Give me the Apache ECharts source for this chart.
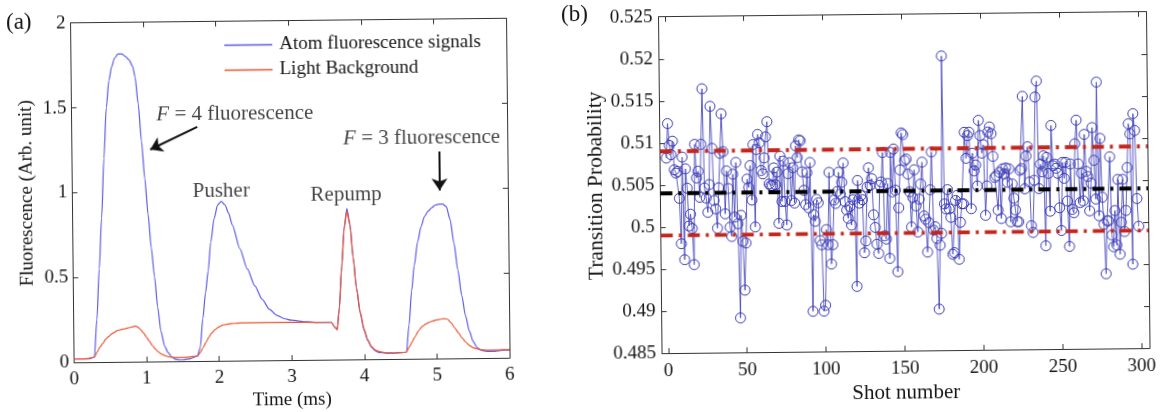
<!DOCTYPE html>
<html><head><meta charset="utf-8">
<script src="https://cdn.jsdelivr.net/npm/echarts@6/dist/echarts.min.js"></script>
<style>
html,body{margin:0;padding:0;background:#fff;overflow:hidden}
#c{width:1163px;height:412px;transform:rotate(-0.6deg);transform-origin:50% 50%;}
</style>
</head><body><div id="c"></div>
<script>
// ---------- Panel (a) ----------
const aTime = [0,0.1,0.2,0.28,0.32,0.36,0.40,0.44,0.48,0.52,0.56,0.60,0.65,0.70,0.75,0.80,0.85,0.88,0.92,0.96,1.00,1.04,1.08,1.12,1.16,1.20,1.25,1.30,1.35,1.40,1.45,1.50,1.60,1.70,1.74,1.78,1.82,1.86,1.90,1.95,2.00,2.05,2.10,2.15,2.20,2.30,2.40,2.50,2.60,2.70,2.80,2.90,3.00,3.20,3.40,3.55,3.60,3.63,3.66,3.70,3.74,3.78,3.82,3.86,3.90,3.95,4.00,4.05,4.10,4.15,4.20,4.30,4.40,4.50,4.58,4.62,4.66,4.70,4.75,4.80,4.85,4.90,4.95,5.00,5.05,5.10,5.15,5.20,5.25,5.30,5.35,5.40,5.45,5.50,5.55,5.60,5.65,5.70,5.80,5.90,6.00];
const aAtom = [0.02,0.02,0.02,0.03,0.25,0.55,0.85,1.20,1.50,1.66,1.74,1.79,1.815,1.815,1.80,1.78,1.74,1.68,1.52,1.30,1.08,0.87,0.67,0.50,0.32,0.18,0.09,0.05,0.025,0.012,0.008,0.008,0.015,0.03,0.08,0.25,0.40,0.53,0.70,0.84,0.92,0.94,0.92,0.87,0.80,0.66,0.54,0.44,0.36,0.30,0.265,0.245,0.235,0.225,0.22,0.22,0.19,0.18,0.30,0.55,0.78,0.89,0.80,0.60,0.42,0.27,0.17,0.11,0.07,0.05,0.04,0.035,0.035,0.038,0.04,0.20,0.40,0.55,0.69,0.78,0.84,0.87,0.89,0.905,0.91,0.91,0.895,0.82,0.68,0.52,0.37,0.25,0.16,0.10,0.065,0.048,0.042,0.04,0.04,0.045,0.045];
const aBackground = [0.02,0.02,0.022,0.03,0.06,0.09,0.11,0.135,0.15,0.165,0.175,0.185,0.19,0.195,0.20,0.205,0.21,0.205,0.19,0.17,0.145,0.12,0.095,0.075,0.058,0.045,0.035,0.028,0.025,0.022,0.022,0.022,0.025,0.03,0.05,0.08,0.11,0.14,0.165,0.185,0.20,0.21,0.215,0.218,0.22,0.222,0.222,0.222,0.222,0.222,0.222,0.222,0.222,0.222,0.22,0.22,0.19,0.175,0.29,0.54,0.77,0.875,0.79,0.60,0.42,0.28,0.18,0.115,0.075,0.055,0.045,0.037,0.036,0.038,0.04,0.07,0.10,0.13,0.165,0.19,0.205,0.215,0.222,0.228,0.232,0.235,0.232,0.21,0.18,0.15,0.12,0.095,0.075,0.062,0.055,0.05,0.048,0.047,0.047,0.048,0.048];
const aSeriesNames = ['Atom fluorescence signals','Light Background'];
const annText = ['{i|F} = 4 fluorescence','Pusher','Repump','{i|F} = 3 fluorescence'];
const annT = [2.25, 2.05, 3.77, 4.82];
const annV = [1.456, 1.0, 0.97, 1.30];
// arrows: [t0, v0, t1, v1]
const arrows = [[1.73,1.38,1.08,1.25],[5.06,1.22,5.06,0.99]];

// ---------- Panel (b) ----------
const bProb = [
0.5082,0.5123,0.5097,0.5086,0.5102,0.5068,0.5064,0.5066,0.5034,0.4980,
0.5083,0.4961,0.5069,0.5046,0.5001,0.5015,0.4998,0.4955,0.5098,0.5058,
0.5066,0.5035,0.5098,0.5164,0.5046,0.5034,0.5017,0.5050,0.5143,0.5093,
0.5031,0.5021,0.4998,0.5046,0.5087,0.5134,0.5089,0.5015,0.5066,0.5045,
0.4999,0.4988,0.5062,0.5011,0.5076,0.5003,0.4891,0.5013,0.4982,0.4924,
0.4980,0.5056,0.5046,0.5072,0.5031,0.5097,0.4999,0.5091,0.5109,0.5099,
0.5066,0.5062,0.5081,0.5106,0.5124,0.5050,0.5048,0.5048,0.5069,0.5049,
0.5064,0.5003,0.5083,0.5029,0.5077,0.5029,0.5001,0.5062,0.5075,0.5030,
0.5069,0.5027,0.5095,0.5081,0.5102,0.5101,0.5064,0.5042,0.5025,0.5063,
0.5021,0.5075,0.4898,0.5013,0.5005,0.5031,0.5027,0.4982,
0.4977,0.4898,0.4905,0.4995,0.4977,0.5063,0.4954,0.4977,0.5030,0.5026,
0.5040,0.5063,0.5037,0.5051,0.5074,0.5028,0.5018,0.5008,0.5022,0.5000,
0.5030,0.5034,0.4927,0.5053,0.5026,0.5035,0.5030,0.4967,0.4981,0.5045,
0.5068,0.5047,0.5055,0.5012,0.4997,0.4977,0.4966,0.5047,0.5051,0.5086,
0.4987,0.4983,0.5049,0.4960,0.5086,0.5039,0.5090,0.5041,0.4944,0.5020,
0.5065,0.5109,0.5107,0.5076,0.5078,0.5060,0.5039,0.4997,0.5032,0.5065,
0.5022,0.4991,0.5030,0.5048,0.5074,0.5010,0.5006,0.4967,0.5002,0.5041,
0.5086,0.4993,0.4997,0.4983,0.4899,0.4975,0.4989,0.5200,0.5024,0.5018,
0.5041,0.5018,0.5008,0.4964,0.4966,0.5028,0.5034,0.4958,0.5002,0.5024,
0.5024,0.5109,0.5078,0.5105,0.5109,0.5018,0.5084,0.5063,0.5070,0.5045,
0.5123,0.5105,0.5084,0.5094,0.5010,0.5045,0.5109,0.5115,0.5107,0.5080,
0.5055,0.5057,0.5016,0.5061,0.5006,0.5065,0.5059,0.5066,0.5049,0.5065,
0.5002,0.5047,0.5030,0.5016,0.5002,0.5002,0.5063,0.5065,0.5151,0.5041,
0.5080,0.5091,0.5049,0.4997,0.4989,0.5051,0.5150,0.5169,0.5041,0.5070,
0.5061,0.5080,0.4973,0.5078,0.5059,0.5014,0.5116,0.5068,0.5070,0.5065,
0.5059,0.5018,0.4991,0.5072,0.5053,0.5072,0.5026,0.4972,0.5070,0.5016,
0.5012,0.5094,0.5122,0.5070,0.5024,0.5059,0.5026,0.5105,0.5061,0.5055,
0.5014,0.5047,0.5113,0.5074,0.5028,0.5167,0.5008,0.5100,0.5030,0.4998,
0.4939,0.5002,0.5002,0.5078,0.4985,0.4971,0.5014,0.4973,0.5051,0.4962,
0.5000,0.5051,0.4989,0.5014,0.5065,0.5117,0.5105,0.4950,0.5129,0.5109,
0.5028,0.4995];
const bMean = 0.5040;
const bUpper = 0.5090;
const bLower = 0.4990;
const bXMin = -4, bXMax = 305;
const bXTicks = [0,50,100,150,200,250,300];

// ---------- styles ----------
const FONT = 'Liberation Serif';
const TXT = '#151515';
const AX = '#333';
function axisCommon(show){
  return {
    axisLine:{show:true,onZero:false,lineStyle:{color:AX,width:1}},
    axisTick:{show:true,inside:true,length:5,lineStyle:{color:AX,width:1}},
    splitLine:{show:false},
    axisLabel:{show:show,color:TXT,fontFamily:FONT,fontSize:19},
    nameTextStyle:{color:TXT,fontFamily:FONT,fontSize:19}
  };
}
const gridA = {left:72.5, top:17.7, width:435.5, height:343.4};
const gridB = {left:660.5, top:17.7, width:487.5, height:343.4};

const xA = Object.assign(axisCommon(true),{type:'value',gridIndex:0,min:0,max:6,interval:1,position:'bottom',
  name:'Time (ms)',nameLocation:'middle',nameGap:28});
xA.axisLabel.margin = 7;
const xA2 = Object.assign(axisCommon(false),{type:'value',gridIndex:0,min:0,max:6,interval:1,position:'top'});
const yA = Object.assign(axisCommon(true),{type:'value',gridIndex:0,min:0,max:2,interval:0.5,position:'left',
  name:'Fluorescence (Arb. unit)',nameLocation:'middle',nameGap:36});
yA.axisLabel.margin = 5;
const yA2 = Object.assign(axisCommon(false),{type:'value',gridIndex:0,min:0,max:2,interval:0.5,position:'right'});

const xB = Object.assign(axisCommon(true),{type:'value',gridIndex:1,min:bXMin,max:bXMax,position:'bottom',
  name:'Shot number',nameLocation:'middle',nameGap:28});
xB.axisLabel.margin = 8; xB.axisLabel.customValues = bXTicks; xB.axisTick.customValues = bXTicks;
xB.nameTextStyle.fontSize = 21;
const xB2 = Object.assign(axisCommon(false),{type:'value',gridIndex:1,min:bXMin,max:bXMax,position:'top'});
xB2.axisTick.customValues = bXTicks;
const yB = Object.assign(axisCommon(true),{type:'value',gridIndex:1,min:0.485,max:0.525,interval:0.005,position:'left',
  name:'Transition Probability',nameLocation:'middle',nameGap:42});
yB.axisLabel.margin = 6; yB.axisLabel.formatter = v => String(+v.toFixed(3));
yB.nameTextStyle.fontSize = 21.5;
const yB2 = Object.assign(axisCommon(false),{type:'value',gridIndex:1,min:0.485,max:0.525,interval:0.005,position:'right'});

const chart = echarts.init(document.getElementById('c'), null, {renderer:'canvas'});
chart.setOption({
  animation:false,
  backgroundColor:'#fff',
  textStyle:{fontFamily:FONT},
  grid:[gridA, gridB],
  xAxis:[xA, xA2, xB, xB2],
  yAxis:[yA, yA2, yB, yB2],
  legend:{
    data:aSeriesNames.map(n=>({name:n,icon:'rect'})), orient:'vertical', left:221, top:27, itemWidth:48, itemHeight:1.4, itemGap:6,
    textStyle:{color:TXT,fontFamily:FONT,fontSize:19,padding:[0,0,0,2]}, backgroundColor:'transparent'
  },
  graphic:[
    {type:'text',left:8,top:5,style:{text:'(a)',font:'23px "Liberation Serif"',fill:TXT}},
    {type:'text',left:563,top:3,style:{text:'(b)',font:'23px "Liberation Serif"',fill:TXT}}
  ],
  series:[
    {name:aSeriesNames[0],type:'line',xAxisIndex:0,yAxisIndex:0,symbol:'none',smooth:0.25,smoothMonotone:'x',
     data:aTime.map((t,i)=>[t,aAtom[i]]),lineStyle:{color:'#5b5be6',width:1.2},itemStyle:{color:'#5b5be6'},z:2},
    {name:aSeriesNames[1],type:'line',xAxisIndex:0,yAxisIndex:0,symbol:'none',smooth:0.25,smoothMonotone:'x',
     data:aTime.map((t,i)=>[t,aBackground[i]]),lineStyle:{color:'#ea5530',width:1.2},itemStyle:{color:'#ea5530'},z:3},
    {name:'annotations',type:'scatter',xAxisIndex:0,yAxisIndex:0,symbolSize:0,silent:true,z:5,
     data:annT.map((t,i)=>({value:[t,annV[i]],label:{formatter:annText[i]}})),
     label:{show:true,position:'inside',color:TXT,fontFamily:FONT,fontSize:21,
       rich:{i:{fontStyle:'italic',fontFamily:FONT,fontSize:21,color:TXT}}},
     markLine:{silent:true,symbol:['none','arrow'],symbolSize:12,animation:false,
       lineStyle:{color:'#111',width:2,type:'solid'},label:{show:false},
       data:arrows.map(a=>[{coord:[a[0],a[1]]},{coord:[a[2],a[3]]}])}},
    {name:'prob',type:'line',xAxisIndex:2,yAxisIndex:2,data:bProb.map((v,i)=>[i,v]),
     symbol:'circle',symbolSize:10,showAllSymbol:true,
     lineStyle:{color:'#3a3ab8',width:0.8},
     itemStyle:{color:'rgba(0,0,0,0)',borderColor:'#3a3ab8',borderWidth:1},z:2},
    {name:'upper',type:'line',xAxisIndex:2,yAxisIndex:2,symbol:'none',data:[[bXMin,bUpper],[bXMax,bUpper]],
     lineStyle:{color:'#c4261c',width:3.8,type:[12,6,3,6]},z:4},
    {name:'lower',type:'line',xAxisIndex:2,yAxisIndex:2,symbol:'none',data:[[bXMin,bLower],[bXMax,bLower]],
     lineStyle:{color:'#c4261c',width:3.8,type:[12,6,3,6]},z:4},
    {name:'mean',type:'line',xAxisIndex:2,yAxisIndex:2,symbol:'none',data:[[bXMin,bMean],[bXMax,bMean]],
     lineStyle:{color:'#000',width:4,type:[12,6,3,6]},z:4}
  ]
});
</script>
</body></html>
